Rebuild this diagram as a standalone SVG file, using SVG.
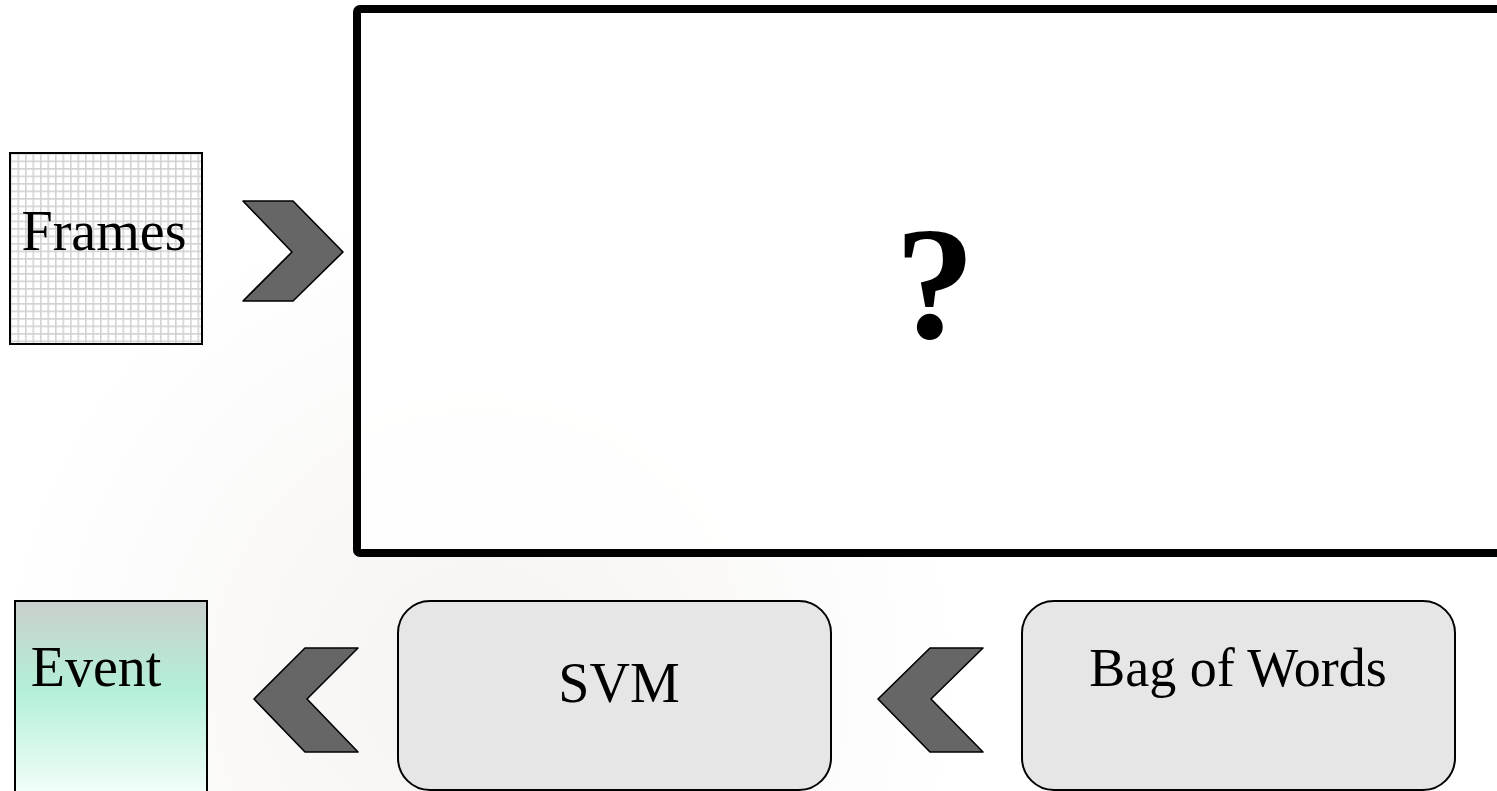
<svg xmlns="http://www.w3.org/2000/svg" width="1497" height="791" viewBox="0 0 1497 791">
<defs>
<pattern id="grid" x="10" y="153" width="7.5" height="7.5" patternUnits="userSpaceOnUse">
<rect width="7.5" height="7.5" fill="#ffffff"/>
<path d="M0 0.75 H7.5 M0.75 0 V7.5" stroke="#d2d2d2" stroke-width="1.6" fill="none"/>
</pattern>
<linearGradient id="eventGrad" x1="0" y1="0" x2="0" y2="1">
<stop offset="0" stop-color="#c9cfcc"/>
<stop offset="0.45" stop-color="#b3f0d7"/>
<stop offset="1" stop-color="#f7fffc"/>
</linearGradient>
<radialGradient id="bg" cx="480" cy="680" r="480" gradientUnits="userSpaceOnUse">
<stop offset="0" stop-color="#f5f3f1"/>
<stop offset="1" stop-color="#ffffff"/>
</radialGradient>
<style>
.lbl{font-family:"Liberation Serif","Times New Roman",serif;font-size:56px;fill:#000;text-anchor:middle}
.chev{fill:#666666;stroke:#000;stroke-width:1.6;stroke-linejoin:round}
.rbox{fill:#e6e6e6;stroke:#000;stroke-width:2}
</style>
</defs>
<rect width="1497" height="791" fill="url(#bg)"/>
<g id="frames">
<rect x="10" y="153" width="192" height="191" fill="url(#grid)" stroke="#000" stroke-width="2"/>
<text class="lbl" x="104" y="250">Frames</text>
</g>
<g id="unknown">
<rect x="357" y="9" width="1200" height="544" rx="3" fill="#ffffff" fill-opacity="0.85" stroke="#000" stroke-width="8"/>
<text x="935" y="338" font-family="Liberation Serif,'Times New Roman',serif" font-size="160" font-weight="bold" text-anchor="middle">?</text>
</g>
<g id="event">
<rect x="15" y="601" width="192" height="200" fill="url(#eventGrad)" stroke="#000" stroke-width="2"/>
<text class="lbl" x="96" y="686">Event</text>
</g>
<g id="svm">
<rect class="rbox" x="398" y="601" width="433" height="189" rx="32"/>
<text class="lbl" x="619" y="702">SVM</text>
</g>
<g id="bow">
<rect class="rbox" x="1022" y="601" width="433" height="189" rx="32"/>
<text class="lbl" x="1238" y="686" style="font-size:54px">Bag of Words</text>
</g>
<g id="connectors">
<polygon class="chev" points="243,201 293,201 343,252 293,301 243,301 292,252"/>
<polygon class="chev" points="305,648 358,648 307,699 358,752 305,752 254,699"/>
<polygon class="chev" points="930,648 983,648 931,699 983,752 930,752 878,699"/>
</g>
</svg>
